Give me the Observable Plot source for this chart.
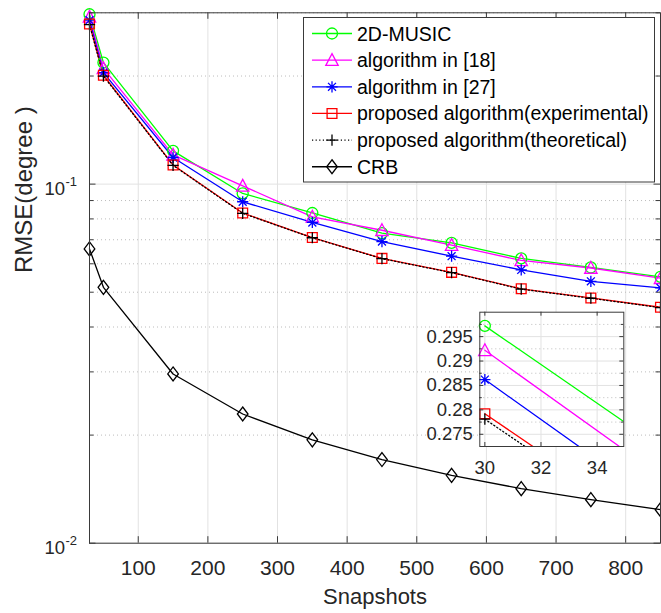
<!DOCTYPE html>
<html><head><meta charset="utf-8">
<script src="https://cdn.jsdelivr.net/npm/d3@7"></script>
<script src="https://cdn.jsdelivr.net/npm/@observablehq/plot@0.6"></script>
<style>
body{margin:0;background:#fff;}
#wrap{position:relative;width:661px;height:613px;overflow:hidden;font-family:"Liberation Sans",Arial,Helvetica,sans-serif;background:#fff;}
#wrap svg{position:absolute;}
</style></head><body><div id="wrap"></div>
<script>
// ---------- data ----------
const snapshots = [30, 50, 150, 250, 350, 450, 550, 650, 750, 850];
const music2d   = [0.2972, 0.2180, 0.1238, 0.0942, 0.0831, 0.0730, 0.0686, 0.0621, 0.0586, 0.0552];
const alg18     = [0.2922, 0.2100, 0.1206, 0.0989, 0.0811, 0.0744, 0.0676, 0.0613, 0.0584, 0.0547];
const alg27     = [0.2862, 0.2045, 0.1186, 0.0893, 0.0782, 0.0692, 0.0630, 0.0577, 0.0536, 0.0514];
const propExp   = [0.2792, 0.2010, 0.1131, 0.0831, 0.0710, 0.0621, 0.0568, 0.0511, 0.0482, 0.0454];
const propTheo  = [0.2781, 0.2000, 0.1128, 0.0829, 0.0709, 0.0620, 0.0567, 0.0510, 0.0481, 0.0453];
const crb       = [0.0660, 0.0516, 0.0296, 0.0229, 0.0194, 0.0171, 0.01545, 0.01419, 0.01322, 0.0124];
const seriesNames = ["2D-MUSIC", "algorithm in [18]", "algorithm in [27]",
  "proposed algorithm(experimental)", "proposed algorithm(theoretical)", "CRB"];
const xTicks = [100, 200, 300, 400, 500, 600, 700, 800];
const yMajor = [0.01, 0.1];
const yMinor = [0.02, 0.03, 0.04, 0.05, 0.06, 0.07, 0.08, 0.09, 0.2, 0.3];
const insetXTicks = [30, 32, 34];
const insetYTicks = [0.275, 0.28, 0.285, 0.29, 0.295];
const insetYMinor = [0.2775, 0.2825, 0.2875, 0.2925, 0.2975];
const xLabel = "Snapshots";
const yLabel = "RMSE(degree )";

// ---------- symbols ----------
const rad = s => Math.sqrt(s / Math.PI);
const symTriangle = {draw(c, s){const r = rad(s); c.moveTo(0, -r*1.05); c.lineTo(r, r*0.85); c.lineTo(-r, r*0.85); c.closePath();}};
const symStar = {draw(c, s){const r = rad(s), d = r*Math.SQRT1_2; c.moveTo(-r,0); c.lineTo(r,0); c.moveTo(0,-r); c.lineTo(0,r); c.moveTo(-d,-d); c.lineTo(d,d); c.moveTo(-d,d); c.lineTo(d,-d);}};
const symSquare = {draw(c, s){const r = rad(s); c.moveTo(-r,-r); c.lineTo(r,-r); c.lineTo(r,r); c.lineTo(-r,r); c.closePath();}};
const symPlus = {draw(c, s){const r = rad(s); c.moveTo(-r,0); c.lineTo(r,0); c.moveTo(0,-r); c.lineTo(0,r);}};
const symDiamond = {draw(c, s){const r = rad(s); c.moveTo(0,-r); c.lineTo(r*0.76,0); c.lineTo(0,r); c.lineTo(-r*0.76,0); c.closePath();}};
const symCircle = {draw(c, s){const r = rad(s); c.moveTo(r,0); c.arc(0,0,r,0,2*Math.PI);}};

const valueSets = [music2d, alg18, alg27, propExp, propTheo, crb];
const styles = [
  {color:"#00ff00", symbol:symCircle, r:5.5, dash:null},
  {color:"#ff00ff", symbol:symTriangle, r:6.2, dash:null},
  {color:"#0000ff", symbol:symStar, r:5.6, dash:null},
  {color:"#ff0000", symbol:symSquare, r:4.9, dash:null},
  {color:"#000000", symbol:symPlus, r:5.6, dash:"1.2,2.4"},
  {color:"#000000", symbol:symDiamond, r:7, dash:null}
];
const table = seriesNames.flatMap((name, k) => snapshots.map((x, i) => ({series: name, k, x, y: valueSets[k][i]})));

const FONT = '"Liberation Sans", Arial, Helvetica, sans-serif';
const AX = "#262626";
const W = 661, H = 613, ML = 89, MR = 1, MT = 12.3, MB = 613 - 542.7;
const innerW = W - ML - MR, innerH = H - MT - MB;

function seriesMarks(data, opts = {}) {
  const marks = [];
  seriesNames.forEach((name, k) => {
    const st = styles[k];
    const rows = data.filter(d => d.k === k);
    marks.push(Plot.line(rows, {x:"x", y:"y", stroke: st.color, strokeWidth: 1.3, strokeDasharray: st.dash, ...opts.line}));
  });
  seriesNames.forEach((name, k) => {
    const st = styles[k];
    const rows = data.filter(d => d.k === k && (!opts.dotFilter || opts.dotFilter(d)));
    marks.push(Plot.dot(rows, {x:"x", y:"y", symbol: st.symbol, r: st.r, stroke: st.color, fill:"none", strokeWidth: 1.3}));
  });
  return marks;
}

// ---------- main plot ----------
const main = Plot.plot({
  width: W, height: H, marginLeft: ML, marginRight: MR, marginTop: MT, marginBottom: MB,
  style: {background: "transparent", fontFamily: FONT, color: AX, overflow: "visible"},
  x: {type: "linear", domain: [30, 850], label: null},
  y: {type: "log", domain: [0.01, 0.3], axis: null},
  marks: [
    Plot.ruleX(xTicks, {x: d => d, stroke: "#e2e2e2", strokeWidth: 1}),
    Plot.ruleY(yMajor, {y: d => d, stroke: "#e2e2e2", strokeWidth: 1}),
    Plot.ruleY(yMinor, {y: d => d, stroke: "#bcbcbc", strokeWidth: 1, strokeDasharray: "1,3"}),
    ...seriesMarks(table),
    Plot.frame({stroke: "#3a3a3a", strokeWidth: 1}),
    Plot.ruleX(xTicks, {x: d => d, insetTop: innerH - 6.5, stroke: "#3a3a3a"}),
    Plot.ruleX(xTicks, {x: d => d, insetBottom: innerH - 6.5, stroke: "#3a3a3a"}),
    Plot.ruleY(yMajor, {y: d => d, insetRight: innerW - 6.5, stroke: "#3a3a3a"}),
    Plot.ruleY(yMinor, {y: d => d, insetRight: innerW - 4.5, stroke: "#3a3a3a"}),
    Plot.ruleY(yMajor, {y: d => d, insetLeft: innerW - 6.5, stroke: "#3a3a3a"}),
    Plot.ruleY(yMinor, {y: d => d, insetLeft: innerW - 4.5, stroke: "#3a3a3a"}),
    Plot.axisX(xTicks, {anchor: "bottom", tickSize: 0, tickPadding: 17, fontSize: 21, label: null, tickFormat: d => String(d), fill: AX}),
    Plot.text(yMajor, {y: d => d, frameAnchor: "left", text: () => "10", textAnchor: "end", dx: -24.5, dy: 5, fontSize: 18.5, fill: AX}),
    Plot.text(yMajor, {y: d => d, frameAnchor: "left", text: d => String(Math.round(Math.log10(d))), textAnchor: "start", dx: -24, dy: -2, fontSize: 13, fill: AX}),
    Plot.text([xLabel], {text: d => d, frameAnchor: "bottom", dy: 61, fontSize: 22, fill: AX}),
    Plot.text([yLabel], {text: d => d, frameAnchor: "left", rotate: -90, dx: -65, dy: -5, fontSize: 24, fill: AX, style: "letter-spacing:1px"})
  ]
});
main.style.left = "0px"; main.style.top = "0px";
document.getElementById("wrap").appendChild(main);

// ---------- legend ----------
const leg = d3.select("#wrap").append("svg").attr("width", W).attr("height", H).style("left","0px").style("top","0px");
leg.append("rect").attr("x", 303.5).attr("y", 17.5).attr("width", 351).attr("height", 164.5)
  .attr("fill", "#fff").attr("stroke", "#3a3a3a").attr("stroke-width", 1);
seriesNames.forEach((name, k) => {
  const st = styles[k];
  const cy = 33.5 + k * 26.65;
  const g = leg.append("g");
  g.append("line").attr("x1", 312).attr("x2", 352).attr("y1", cy).attr("y2", cy)
    .attr("stroke", st.color).attr("stroke-width", 1.3).attr("stroke-dasharray", st.dash);
  g.append("path").attr("transform", `translate(332,${cy})`)
    .attr("d", d3.symbol(st.symbol, Math.PI * st.r * st.r)())
    .attr("fill", "none").attr("stroke", st.color).attr("stroke-width", 1.3);
  g.append("text").attr("x", 357).attr("y", cy).attr("dy", "0.36em").attr("font-size", 19.5)
    .attr("font-family", FONT).attr("fill", "#000").text(name);
});

// ---------- inset ----------
const IL = 415, IT = 295, IW = 220, IH = 195;
const IX0 = 479.3, IX1 = 623.3, IY0 = 311.7, IY1 = 446;
const iInnerW = IX1 - IX0, iInnerH = IY1 - IY0;
const inset = Plot.plot({
  width: IW, height: IH,
  marginLeft: IX0 - IL, marginRight: IW - (IX1 - IL), marginTop: IY0 - IT, marginBottom: IH - (IY1 - IT),
  style: {background: "transparent", fontFamily: FONT, color: AX, overflow: "visible"},
  x: {type: "linear", domain: [29.82, 34.95], label: null},
  y: {type: "linear", domain: [0.2725, 0.3], label: null},
  marks: [
    Plot.frame({fill: "#fff"}),
    Plot.ruleX(insetXTicks, {x: d => d, stroke: "#e2e2e2"}),
    Plot.ruleY(insetYTicks, {y: d => d, stroke: "#e2e2e2"}),
    Plot.ruleY(insetYMinor, {y: d => d, stroke: "#bcbcbc", strokeDasharray: "1,3"}),
    ...seriesMarks(table.filter(d => d.k < 5), {line: {clip: true}, dotFilter: d => d.x <= 35}),
    Plot.frame({stroke: "#3a3a3a", strokeWidth: 1}),
    Plot.ruleX(insetXTicks, {x: d => d, insetTop: iInnerH - 4, stroke: "#3a3a3a"}),
    Plot.ruleX(insetXTicks, {x: d => d, insetBottom: iInnerH - 4, stroke: "#3a3a3a"}),
    Plot.ruleY(insetYTicks, {y: d => d, insetRight: iInnerW - 4, stroke: "#3a3a3a"}),
    Plot.ruleY(insetYTicks, {y: d => d, insetLeft: iInnerW - 4, stroke: "#3a3a3a"}),
    Plot.ruleY(insetYMinor, {y: d => d, insetRight: iInnerW - 2.5, stroke: "#3a3a3a"}),
    Plot.ruleY(insetYMinor, {y: d => d, insetLeft: iInnerW - 2.5, stroke: "#3a3a3a"}),
    Plot.axisX(insetXTicks, {anchor: "bottom", tickSize: 0, tickPadding: 14, fontSize: 18.5, label: null, tickFormat: d => String(d), fill: AX}),
    Plot.axisY(insetYTicks, {anchor: "left", tickSize: 0, tickPadding: 7, fontSize: 18.5, label: null, tickFormat: d => String(d), fill: AX})
  ]
});
inset.style.left = IL + "px"; inset.style.top = IT + "px";
document.getElementById("wrap").appendChild(inset);
</script></body></html>
